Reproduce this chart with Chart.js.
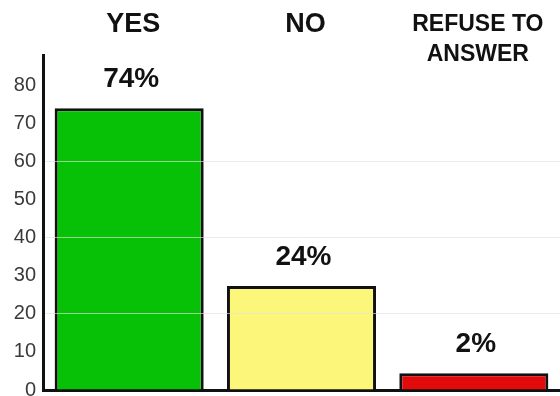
<!DOCTYPE html>
<html>
<head>
<meta charset="utf-8">
<script src="https://cdn.jsdelivr.net/npm/chart.js@4/dist/chart.umd.min.js"></script>
<style>
  html,body{margin:0;padding:0;background:#fff}
  #wrap{width:560px;height:396px}
</style>
</head>
<body>
<div id="wrap"><canvas id="ch"></canvas></div>
<script>
// data
const categories = ['YES', 'NO', ['REFUSE TO', 'ANSWER']];
const barValues = [74, 27.3, 4.4];          // bar heights as drawn
const valueLabels = ['74%', '24%', '2%'];   // printed percentages
const barColors = ['#07c107', '#fcf77b', '#e20a0a'];
const gridValues = [20, 40, 60];

const FONT = '"Liberation Sans", Arial, Helvetica, sans-serif';

// prints the percentage above each bar
const valueLabelPlugin = {
  id: 'valueLabels',
  afterDatasetsDraw(chart) {
    const ctx = chart.ctx;
    const meta = chart.getDatasetMeta(0);
    ctx.save();
    ctx.font = 'bold 28px ' + FONT;
    ctx.fillStyle = '#111';
    ctx.textAlign = 'center';
    ctx.textBaseline = 'alphabetic';
    meta.data.forEach((bar, i) => {
      ctx.fillText(valueLabels[i], bar.x + 2, bar.y - 21);
    });
    ctx.restore();
  }
};

const noPad = s => { s.paddingLeft = 0; s.paddingRight = 0; s.paddingTop = 0; s.paddingBottom = 0; };

new Chart(document.getElementById('ch'), {
  type: 'bar',
  data: {
    labels: categories,
    datasets: [{
      data: barValues,
      backgroundColor: barColors,
      borderColor: '#111',
      borderWidth: 3,
      borderSkipped: 'start',
      barPercentage: 0.865,
      categoryPercentage: 1
    }]
  },
  options: {
    responsive: true,
    maintainAspectRatio: false,
    animation: false,
    layout: {padding: {left: 0, right: 0, top: 0, bottom: 6}},
    plugins: {legend: {display: false}, tooltip: {enabled: false}},
    scales: {
      x: {
        position: 'top',
        grid: {display: false, drawTicks: false},
        border: {display: false},
        ticks: {
          color: '#111',
          // mirrored so the labels are not clipped to the axis box; padding pulls them back up
          mirror: true,
          padding: -75,
          labelOffset: 4,
          crossAlign: 'far',
          maxRotation: 0,
          autoSkip: false,
          font: c => c.index === 2
            ? {family: FONT, size: 23, weight: 'bold', lineHeight: '30px'}
            : {family: FONT, size: 27, weight: 'bold', lineHeight: '30px'}
        },
        afterFit: s => { s.height = 55; noPad(s); }
      },
      x2: {
        position: 'bottom',
        type: 'category',
        labels: categories,
        grid: {display: true, drawTicks: false, color: 'rgba(0,0,0,0)'},
        border: {display: true, color: '#111', width: 3},
        ticks: {display: false},
        afterFit: s => { s.height = 0; noPad(s); }
      },
      y: {
        min: 0,
        max: 88,
        z: 1,
        grid: {
          z: 1,
          drawTicks: false,
          lineWidth: 1,
          color: c => gridValues.includes(c.tick && c.tick.value) ? 'rgba(225,225,225,0.65)' : 'rgba(0,0,0,0)'
        },
        border: {display: true, color: '#111', width: 3, z: 2},
        ticks: {
          stepSize: 10,
          padding: 7,
          color: '#3a3a3a',
          font: {family: FONT, size: 20}
        },
        afterBuildTicks: s => { s.ticks = s.ticks.filter(t => t.value % 10 === 0); },
        afterFit: s => { s.width = 43; noPad(s); }
      }
    }
  },
  plugins: [valueLabelPlugin]
});
</script>
</body>
</html>
